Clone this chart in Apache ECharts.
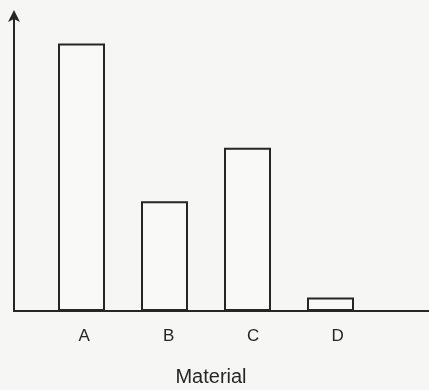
<!DOCTYPE html>
<html>
<head>
<meta charset="utf-8">
<script src="https://cdn.jsdelivr.net/npm/echarts@6/dist/echarts.min.js"></script>
<style>
  html, body { margin: 0; padding: 0; background: #f6f6f4; }
  #chart { width: 429px; height: 390px; }
</style>
</head>
<body>
<div id="chart"></div>
<script>
// Relative amount for each material
const categories = ['A', 'B', 'C', 'D'];
const values = [100, 41, 61, 5];
const yMax = 111;
const axisTitle = 'Material';

const ink = '#262626';
const font = 'Liberation Sans, Arial, sans-serif';

const hidden = { show: false };

const chart = echarts.init(document.getElementById('chart'));
chart.setOption({
  backgroundColor: '#f6f6f4',
  animation: false,
  grid: [
    // frame grid: carries the two axis lines across the full width
    { left: 14, right: 0, top: 14, bottom: 79, outerBoundsMode: 'none' },
    // plot grid: the category bands holding the bars
    { left: 40, right: 57, top: 14, bottom: 79, outerBoundsMode: 'none' },
    // label grid: category letters and the axis title
    { left: 42, right: 49, top: 14, bottom: 79, outerBoundsMode: 'none' }
  ],
  xAxis: [
    {
      gridIndex: 0, type: 'value', min: 0, max: 1,
      axisLine: { show: true, lineStyle: { color: ink, width: 2 } },
      axisTick: hidden, axisLabel: hidden, splitLine: hidden
    },
    {
      gridIndex: 1, type: 'category', data: categories,
      axisLine: hidden, axisTick: hidden, axisLabel: hidden
    },
    {
      gridIndex: 2, type: 'category', data: categories,
      axisLine: hidden, axisTick: hidden,
      axisLabel: { color: ink, fontFamily: font, fontSize: 17, margin: 17 },
      name: axisTitle, nameLocation: 'middle', nameGap: 56,
      nameTextStyle: { color: ink, fontFamily: font, fontSize: 20 }
    }
  ],
  yAxis: [
    {
      gridIndex: 0, type: 'value', min: 0, max: yMax,
      axisLine: {
        show: true, symbol: ['none', 'arrow'], symbolSize: [9, 12], symbolOffset: [0, 4],
        lineStyle: { color: ink, width: 2 }
      },
      axisTick: hidden, axisLabel: hidden, splitLine: hidden
    },
    {
      gridIndex: 1, type: 'value', min: 0, max: yMax,
      axisLine: hidden, axisTick: hidden, axisLabel: hidden, splitLine: hidden
    },
    {
      gridIndex: 2, type: 'value', min: 0, max: yMax,
      axisLine: hidden, axisTick: hidden, axisLabel: hidden, splitLine: hidden
    }
  ],
  series: [{
    type: 'bar',
    xAxisIndex: 1, yAxisIndex: 1,
    data: values,
    barWidth: 47,
    itemStyle: { color: '#f9f9f7', borderColor: ink, borderWidth: 2 }
  }]
});
</script>
</body>
</html>
